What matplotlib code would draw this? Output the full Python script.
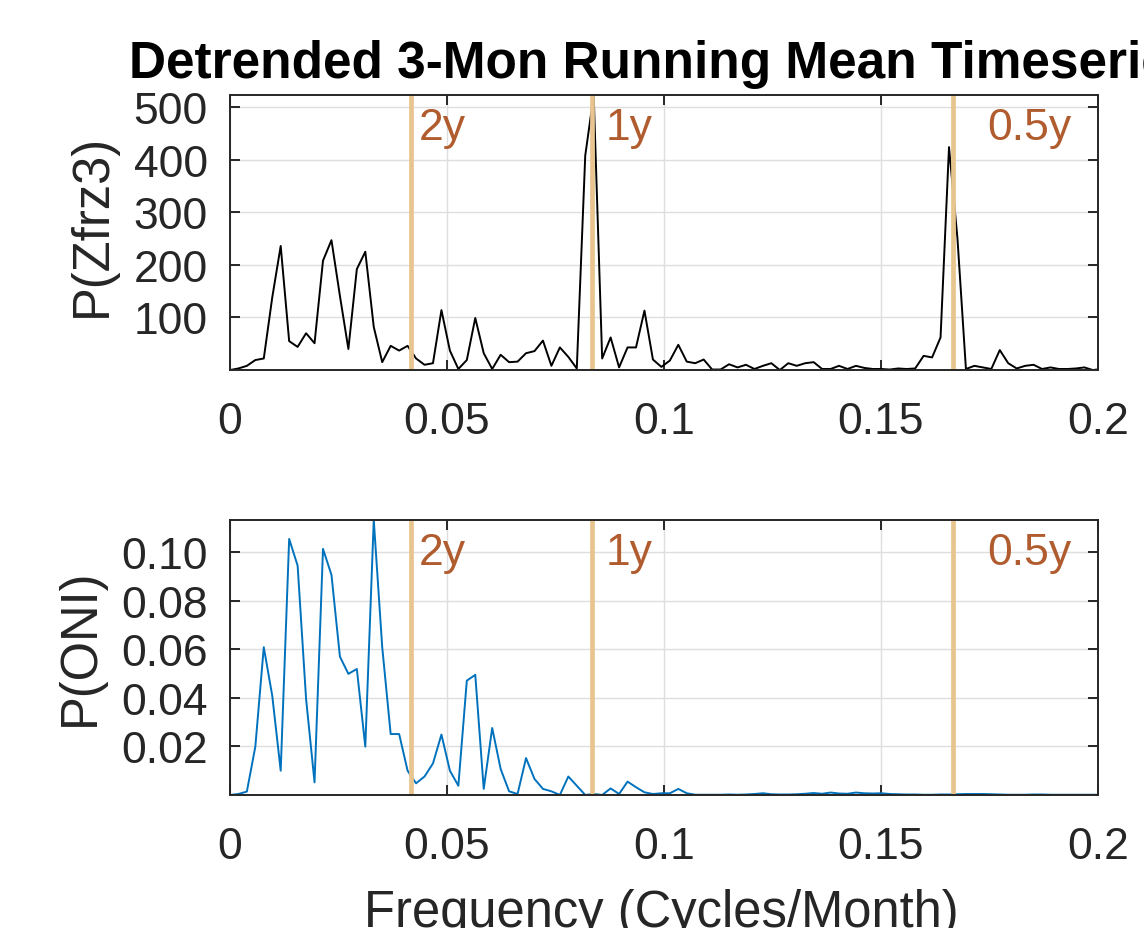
import matplotlib
matplotlib.use('Agg')
import matplotlib.pyplot as plt
import numpy as np
from matplotlib.transforms import blended_transform_factory

plt.rcParams['font.family'] = ['Liberation Sans', 'DejaVu Sans']

# ---------------- data ----------------
n_record = 513
freq = np.arange(104) / n_record

p_zfrz3 = [0, 3, 8, 19, 22, 138, 236, 55, 44, 70,
           51, 208, 247, 141, 40, 192, 225, 82, 15, 46,
           37, 46, 22, 10, 13, 114, 37, 2, 19, 99,
           32, 2, 29, 15, 16, 32, 36, 56, 8, 43,
           25, 3, 408, 523, 22, 62, 5, 43, 43, 113,
           20, 6, 18, 48, 16, 13, 20, 1, 1, 11,
           5, 10, 2, 8, 13, 0, 13, 8, 13, 15,
           2, 2, 8, 2, 8, 4, 2, 2, 1, 3,
           2, 3, 27, 24, 62, 424, 250, 2, 8, 5,
           2, 38, 13, 3, 8, 10, 2, 5, 2, 2,
           3, 5, 0, 2]

p_oni = [0, 0.0004, 0.0014, 0.0199, 0.0609, 0.0409, 0.0100, 0.1055, 0.0945, 0.0396,
         0.0052, 0.1014, 0.0907, 0.0570, 0.0499, 0.0519, 0.0199, 0.1133, 0.0609, 0.0251,
         0.0251, 0.0100, 0.0048, 0.0076, 0.0130, 0.0249, 0.0100, 0.0038, 0.0471, 0.0495,
         0.0025, 0.0276, 0.0107, 0.0015, 0.0004, 0.0152, 0.0066, 0.0025, 0.0015, 0.0,
         0.0076, 0.0038, 0.0, 0.0004, 0.0, 0.0027, 0.0004, 0.0055, 0.0032, 0.0011,
         0.0004, 0.0007, 0.0007, 0.0025, 0.0007, 0.0001, 0.0001, 0.0001, 0.0001, 0.0002,
         0.0001, 0.0002, 0.0004, 0.0007, 0.0003, 0.0002, 0.0002, 0.0003, 0.0005, 0.0008,
         0.0005, 0.0010, 0.0006, 0.0005, 0.0010, 0.0007, 0.0006, 0.0007, 0.0004, 0.0003,
         0.0002, 0.0002, 0.0001, 0.0001, 0.0002, 0.0002, 0.0003, 0.0004, 0.0004, 0.0004,
         0.0003, 0.0002, 0.0001, 0.0001, 0.0001, 0.0002, 0.0002, 0.0001, 0.0001, 0.0001,
         0.0001, 0.0001, 0.0001, 0.0001]

period_freqs = [1 / 24, 1 / 12, 1 / 6]
period_labels = ['2y', '1y', '0.5y']
period_label_x = [0.0436, 0.0866, 0.1745]

xticks = [0, 0.05, 0.1, 0.15, 0.2]
xticklabels = ['0', '0.05', '0.1', '0.15', '0.2']
yticks_top = [100, 200, 300, 400, 500]
yticks_bot = [0.02, 0.04, 0.06, 0.08, 0.10]
yticklabels_bot = ['0.02', '0.04', '0.06', '0.08', '0.10']

title = 'Detrended 3-Mon Running Mean Timeseries'
xlabel = 'Frequency (Cycles/Month)'
ylabel_top = 'P(Zfrz3)'
ylabel_bot = 'P(ONI)'

# ---------------- style ----------------
axcol = '#262626'
gridcol = '#dedede'
tan = '#E8C48E'
brown = '#B05C2E'
blue = '#0072BD'
tick_fs = 32
label_fs = 36.5

fig = plt.figure(figsize=(11.44, 9.29), dpi=100)
ax1 = fig.add_axes([0.2010, 0.6006, 0.7587, 0.2960])
ax2 = fig.add_axes([0.2010, 0.1432, 0.7587, 0.2960])


def style(ax, data, color, yticks, yticklabels, ylabel, ylab_x, ylab_y):
    ax.plot(freq, data, color=color, lw=1.4, zorder=3)
    for f in period_freqs:
        ax.axvline(f, color=tan, lw=3.4, zorder=4)
    tr = blended_transform_factory(ax.transData, ax.transAxes)
    for x, lab in zip(period_label_x, period_labels):
        ax.text(x, 0.84, lab, transform=tr, color=brown, fontsize=tick_fs,
                va='baseline', ha='left', zorder=5)
    ax.set_xlim(0, 0.2)
    ax.set_ylim(0, max(data))
    ax.set_xticks(xticks)
    ax.set_xticklabels(xticklabels)
    ax.set_yticks(yticks)
    ax.set_yticklabels(yticklabels)
    ax.grid(True, color=gridcol, lw=1.0, zorder=0)
    ax.set_axisbelow(True)
    for s in ax.spines.values():
        s.set_color(axcol)
        s.set_linewidth(1.4)
        s.set_zorder(6)
    ax.tick_params(axis='both', direction='in', length=7, width=1.4,
                   color=axcol, labelcolor=axcol, labelsize=tick_fs,
                   top=True, right=True)
    ax.tick_params(axis='x', pad=22)
    ax.tick_params(axis='y', pad=16)
    ax.set_ylabel(ylabel, fontsize=label_fs, color=axcol)
    ax.yaxis.label.set_verticalalignment('center')
    ax.yaxis.set_label_coords(ylab_x, ylab_y)


style(ax1, p_zfrz3, 'black', yticks_top, [str(v) for v in yticks_top], ylabel_top, -0.158, 0.53)
style(ax2, p_oni, blue, yticks_bot, yticklabels_bot, ylabel_bot, -0.172, 0.54)

ax1.set_title(title, fontsize=37, fontweight='bold', color='black', pad=13)
ax2.set_xlabel(xlabel, fontsize=label_fs, color=axcol)
ax2.xaxis.label.set_verticalalignment('top')
ax2.xaxis.set_label_coords(0.497, -0.34)

fig.savefig('out.png', dpi=100)
